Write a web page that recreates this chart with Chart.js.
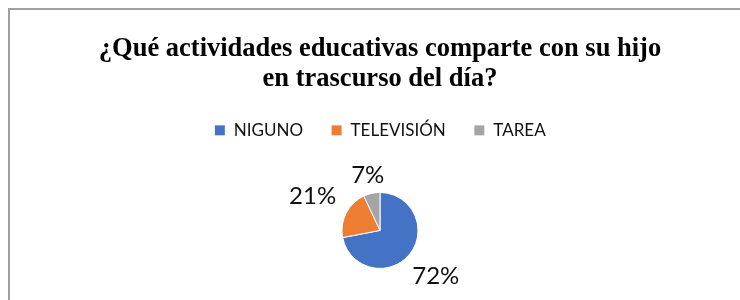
<!DOCTYPE html>
<html>
<head>
<meta charset="utf-8">
<script src="https://cdn.jsdelivr.net/npm/chart.js@4"></script>
<style>
  html, body { margin: 0; padding: 0; background: #fff; overflow: hidden; height: 300px; }
  #box {
    position: absolute; left: 8px; top: 8px;
    width: 740px; height: 302px;
    border-left: 2px solid #a0a0a0; border-top: 2px solid #a0a0a0;
  }
</style>
</head>
<body>
<div id="box"><canvas id="pieChart"></canvas></div>
<script>
const titleLines = ['¿Qué actividades educativas comparte con su hijo', 'en trascurso del día?'];
const categories = ['NIGUNO', 'TELEVISIÓN', 'TAREA'];
const percentages = [72, 21, 7];
const sliceColors = ['#4472C4', '#ED7D31', '#A5A5A5'];

// draws the % labels outside each slice
const outsideLabels = {
    id: 'outsideLabels',
    afterDatasetsDraw(chart) {
        const ctx = chart.ctx;
        const meta = chart.getDatasetMeta(0);
        ctx.save();
        ctx.font = '24px Lato';
        ctx.fillStyle = '#111';
        ctx.textAlign = 'center';
        ctx.textBaseline = 'middle';
        meta.data.forEach((arc, i) => {
            const p = arc.getProps(['x', 'y', 'startAngle', 'endAngle', 'outerRadius'], true);
            const mid = (p.startAngle + p.endAngle) / 2;
            const ux = Math.cos(mid), uy = Math.sin(mid);
            const text = percentages[i] + '%';
            const w = ctx.measureText(text).width;
            const d = p.outerRadius + 14 + Math.abs(ux) * w / 2 + Math.abs(ux) * 3;
            ctx.fillText(text, p.x + ux * d, p.y + uy * d);
        });
        ctx.restore();
    }
};

new Chart(document.getElementById('pieChart'), {
    type: 'pie',
    data: {
        labels: categories,
        datasets: [{
            data: percentages,
            backgroundColor: sliceColors,
            borderColor: '#fff',
            borderWidth: 1,
            radius: 38
        }]
    },
    options: {
        responsive: true,
        maintainAspectRatio: false,
        animation: false,
        layout: { padding: { bottom: -14 } },
        plugins: {
            title: {
                display: true,
                text: titleLines,
                color: '#000',
                font: { family: 'Liberation Serif', size: 26.5, weight: 'bold', lineHeight: 1.13 },
                padding: { top: 24, bottom: 0 }
            },
            legend: {
                position: 'top',
                labels: {
                    boxWidth: 11,
                    boxHeight: 11,
                    padding: 28,
                    color: '#111',
                    font: { family: 'Lato', size: 17 }
                }
            },
            tooltip: { enabled: false }
        }
    },
    plugins: [outsideLabels]
});
</script>
</body>
</html>
